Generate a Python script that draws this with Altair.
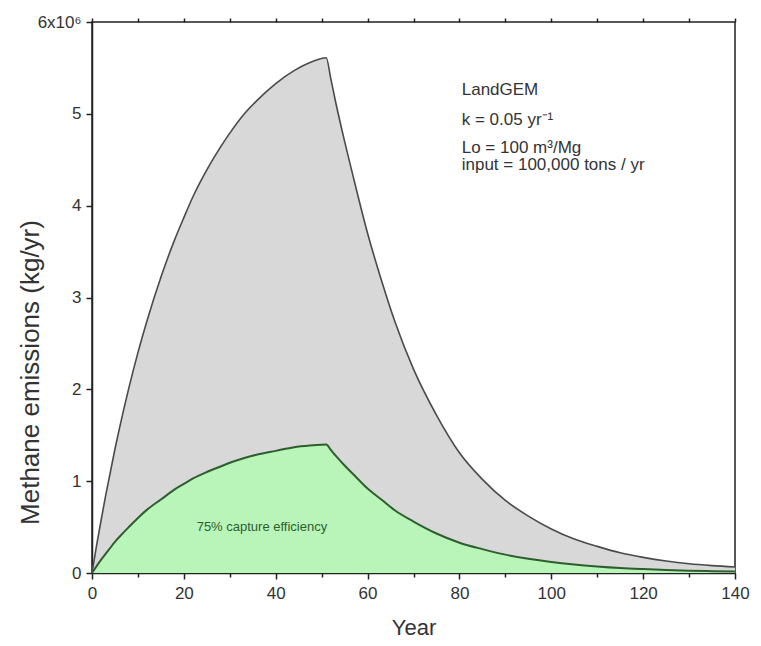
import altair as alt
import pandas as pd

# Year values (x) and emissions (millions of kg/yr)
years = [0, 1, 2, 3, 4, 5, 6, 8, 10, 12, 15, 18, 20, 22, 25, 28, 30, 33, 36, 40, 44, 48, 51,
         52, 53, 55, 57, 60, 63, 66, 70, 75, 80, 85, 90, 95, 100, 105, 110, 115, 120, 125,
         130, 135, 140]
total = [0.0, 0.30, 0.58, 0.85, 1.10, 1.35, 1.58, 2.01, 2.40, 2.75, 3.22, 3.63, 3.87, 4.10,
         4.39, 4.64, 4.79, 4.99, 5.15, 5.33, 5.47, 5.57, 5.61,
         5.38, 5.14, 4.70, 4.29, 3.70, 3.19, 2.73, 2.22, 1.72, 1.31, 1.02, 0.79, 0.62, 0.48,
         0.37, 0.29, 0.22, 0.17, 0.13, 0.10, 0.08, 0.065]
emitted = [0.0, 0.075, 0.145, 0.21, 0.275, 0.34, 0.395, 0.50, 0.60, 0.69, 0.80, 0.91, 0.97,
           1.03, 1.10, 1.16, 1.20, 1.25, 1.29, 1.33, 1.37, 1.39, 1.40,
           1.34, 1.28, 1.17, 1.07, 0.92, 0.80, 0.68, 0.56, 0.43, 0.33, 0.26, 0.20, 0.155,
           0.12, 0.093, 0.072, 0.055, 0.043, 0.033, 0.025, 0.02, 0.016]

info_lines = ["LandGEM", "k = 0.05 yr\u207b\u00b9", "Lo = 100 m\u00b3/Mg",
              "input = 100,000 tons / yr"]
info_y = [5.26, 4.93, 4.63, 4.44]
info_x = [80.5, 80.5, 80.5, 80.5]

note_text = ["75% capture efficiency"]
note_x = [37]
note_y = [0.50]

x_ticks = list(range(0, 141, 10))
y_ticks = [0, 1, 2, 3, 4, 5, 6]

df = pd.DataFrame({"year": years, "total": total, "emitted": emitted})
info = pd.DataFrame({"x": info_x, "y": info_y, "t": info_lines})
note = pd.DataFrame({"x": note_x, "y": note_y, "t": note_text})

FONT = "Liberation Sans"

xscale = alt.Scale(domain=[0, 140], nice=False, zero=False)
yscale = alt.Scale(domain=[0, 6], nice=False)

xaxis = alt.Axis(values=x_ticks, labelExpr="datum.value % 20 === 0 ? datum.label : ''",
                 tickSize={"condition": {"test": "datum.value % 20 === 0", "value": 6}, "value": 4},
                 title="Year", titleFontSize=22, titleFont=FONT, titleFontWeight="normal",
                 titleColor="#333", titleY=54, titleBaseline="middle",
                 labelFont=FONT, labelFontSize=17, labelColor="#333", labelPadding=6,
                 domainColor="#222", domainWidth=1.5, tickColor="#222", tickWidth=1.5,
                 grid=False, labelFlush=False, labelOverlap=False)

yaxis = alt.Axis(values=y_ticks,
                 labelExpr="datum.value === 6 ? '6x10\u2076' : format(datum.value, 'd')",
                 tickSize=6, title="Methane emissions (kg/yr)", titleFontSize=26,
                 titleFont=FONT, titleFontWeight="normal", titleColor="#333",
                 titleX=-62, titleY=350, titleAlign="center", titleBaseline="middle",
                 labelFont=FONT, labelFontSize=17, labelColor="#333", labelPadding=5,
                 domainColor="#222", domainWidth=1.5, tickColor="#222", tickWidth=1.5,
                 grid=False, labelFlush=False, labelOverlap=False)

base = alt.Chart(df)

gray_area = base.mark_area(color="#d8d8d8", opacity=1, interpolate="monotone").encode(
    x=alt.X("year:Q", scale=xscale, axis=xaxis),
    y=alt.Y("total:Q", scale=yscale, axis=yaxis),
)
green_area = base.mark_area(color="#b9f5b9", opacity=1, interpolate="monotone").encode(
    x=alt.X("year:Q", scale=xscale, axis=None),
    y=alt.Y("emitted:Q", scale=yscale),
)
gray_line = base.mark_line(color="#4a4a4a", strokeWidth=1.6, interpolate="monotone").encode(
    x=alt.X("year:Q", scale=xscale, axis=None),
    y=alt.Y("total:Q", scale=yscale),
)
green_line = base.mark_line(color="#2e5e2e", strokeWidth=2, interpolate="monotone").encode(
    x=alt.X("year:Q", scale=xscale, axis=None),
    y=alt.Y("emitted:Q", scale=yscale),
)

info_text = alt.Chart(info).mark_text(align="left", baseline="middle", font=FONT,
                                      fontSize=17, color="#333").encode(
    x=alt.X("x:Q", scale=xscale,
            axis=alt.Axis(orient="top", values=x_ticks, labels=False, title=None,
                          tickSize=4, domain=False, tickColor="#222", tickWidth=1.5,
                          grid=False)),
    y=alt.Y("y:Q", scale=yscale),
    text="t:N",
)
note_mark = alt.Chart(note).mark_text(align="center", baseline="middle", font=FONT,
                                      fontSize=13, color="#2e5e2e").encode(
    x=alt.X("x:Q", scale=xscale, axis=None),
    y=alt.Y("y:Q", scale=yscale),
    text="t:N",
)

chart = alt.layer(gray_area, green_area, gray_line, green_line, note_mark, info_text).resolve_axis(
    x="independent"
).properties(
    width=643, height=551,
    autosize=alt.AutoSizeParams(type="none"),
    padding={"left": 84, "top": 14, "right": 18, "bottom": 65},
).configure_view(stroke="#222", strokeWidth=1.5)

chart.save("out.html", embed_options={"renderer": "svg", "actions": False})
